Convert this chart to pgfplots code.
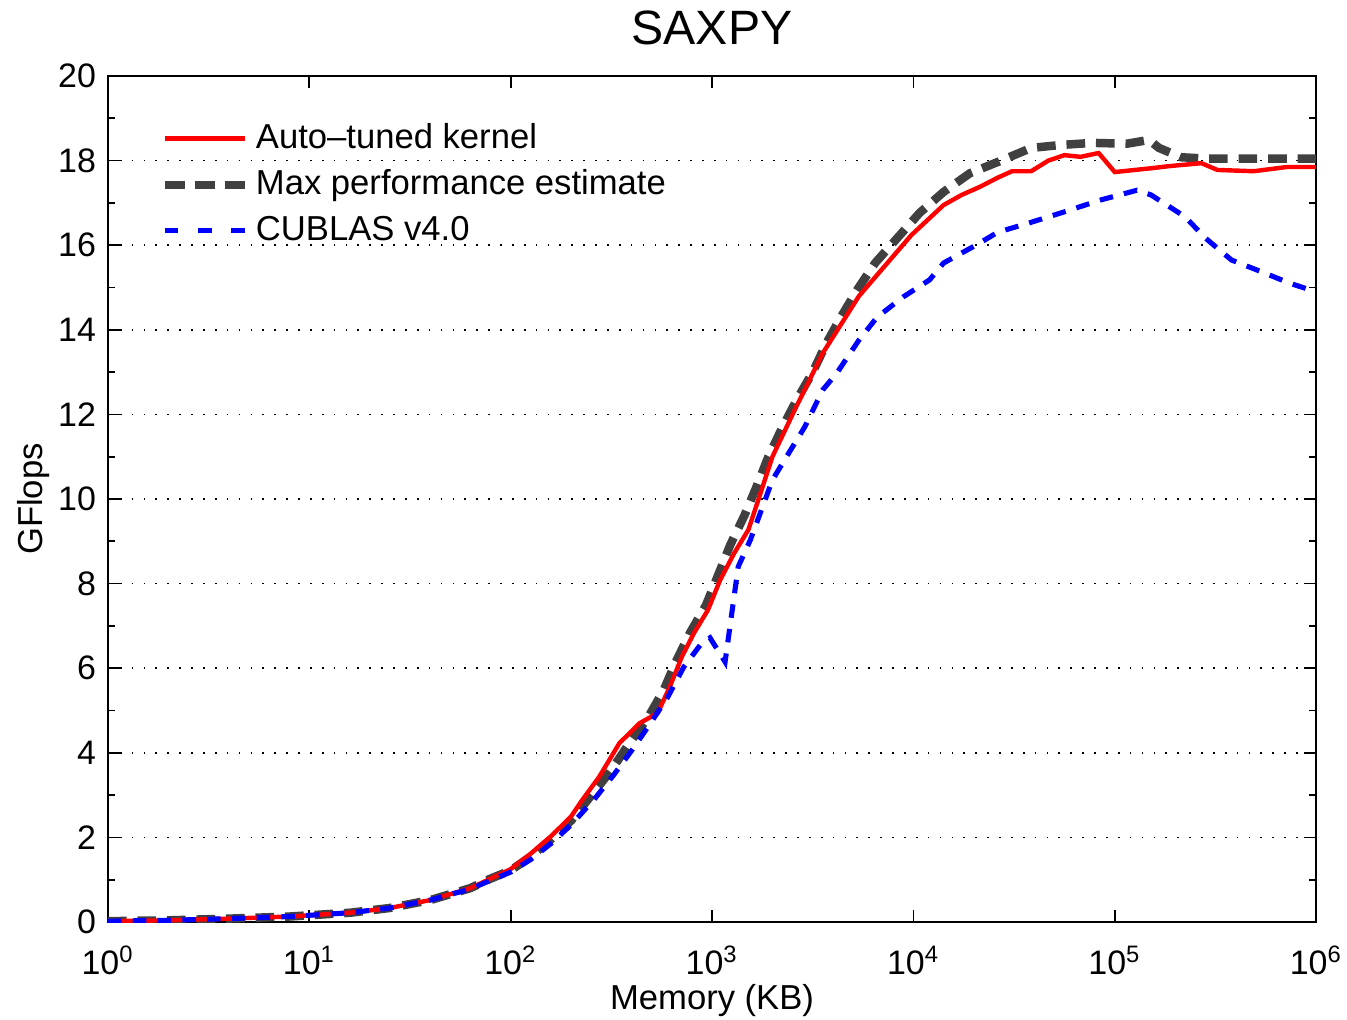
\documentclass[border=0pt]{standalone}
\usepackage{fontspec}
\setmainfont{Liberation Sans}
\usepackage{pgfplots}
\pgfplotsset{compat=1.18}
\definecolor{MaxGray}{HTML}{404040}

% memory in KB, GFlops
\pgfplotstableread{
kb      gf
1       0.02
2       0.04
4       0.08
8       0.13
16      0.22
25      0.33
40      0.52
63      0.80
79      1.02
100     1.25
126     1.62
158     2.02
200     2.50
224     2.85
275     3.43
347     4.23
437     4.70
537     4.94
617     5.56
708     6.27
813     6.83
955     7.38
1096    8.08
1288    8.72
1514    9.27
1698    9.98
1995    11.0
2570    12.1
3548    13.45
5370    14.8
9772    16.24
14125   16.95
17378   17.19
21380   17.38
26303   17.60
30903   17.75
38459   17.75
46774   18.00
56234   18.13
67608   18.09
83176   18.18
100000  17.73
151356  17.82
186209  17.87
269153  17.94
323594  17.78
489779  17.75
716143  17.85
1000000 17.85
}\tuned

\pgfplotstableread{
kb      gf
1       0.02
2       0.04
4       0.08
8       0.13
16      0.22
25      0.33
40      0.52
63      0.80
79      1.02
100     1.22
126     1.55
158     1.95
200     2.40
257     3.05
316     3.59
389     4.23
479     4.82
575     5.48
661     6.15
776     6.83
933     7.49
1072    8.20
1230    8.91
1445    9.60
1660    10.28
1905    11.0
2239    11.7
2630    12.34
3162    13.0
3715    13.7
4365    14.3
5248    14.94
6457    15.58
8318    16.17
10715   16.76
14125   17.26
19055   17.70
26303   17.97
38459   18.30
53703   18.37
77625   18.42
114815  18.40
147911  18.49
165959  18.30
213796  18.08
281838  18.05
500000  18.05
1000000 18.05
}\maxest

\pgfplotstableread{
kb      gf
1       0.02
2       0.04
4       0.08
8       0.13
16      0.22
25      0.33
40      0.52
63      0.78
79      0.98
100     1.18
126     1.48
158     1.85
200     2.30
263     2.93
324     3.47
407     4.11
501     4.74
603     5.32
724     6.03
891     6.60
977     6.72
1161    6.15
1349    8.40
1549    9.03
1778    9.80
1995    10.45
2344    11.0
2884    11.7
3548    12.58
4169    12.98
5370    13.76
6607    14.30
8913    14.78
12023   15.18
14125   15.58
20417   16.00
26303   16.31
37154   16.52
56234   16.79
85114   17.07
128825  17.30
151356  17.19
223872  16.67
281838  16.17
380189  15.65
537032  15.37
741310  15.10
1000000 14.90
}\cublas

\begin{document}
\begin{tikzpicture}
\begin{axis}[
  scale only axis,
  width=355.9pt, height=249.2pt,
  xmode=log, log basis x=10,
  xmin=1, xmax=1000000, ymin=0, ymax=20,
  xtick={1,10,100,1000,10000,100000,1000000},
  xticklabels={10\textsuperscript{0},10\textsuperscript{1},10\textsuperscript{2},10\textsuperscript{3},10\textsuperscript{4},10\textsuperscript{5},10\textsuperscript{6}},
  ytick={0,2,...,20}, minor y tick num=1,
  /pgf/number format/assume math mode=true,
  tick label style={font=\fontsize{10}{12}\selectfont},
  xticklabel style={yshift=-3.5pt},
  tick align=inside, tick pos=both,
  major tick length=3.5pt, minor tick length=2pt,
  every tick/.style={black, line width=0.5pt},
  axis line style={line width=0.6pt},
  ymajorgrids=true,
  grid style={black, line width=0.5pt, dash pattern=on 0.5pt off 3pt},
  title={SAXPY},
  title style={font=\fontsize{14.2}{17}\selectfont, yshift=-0.5pt},
  xlabel={Memory (KB)}, ylabel={GFlops},
  label style={font=\fontsize{10.2}{12}\selectfont},
  xlabel style={yshift=4pt},
  ylabel style={yshift=-4.4pt},
  legend style={draw=none, fill=none, at={(0.043,0.953)}, anchor=north west,
    font=\fontsize{10.2}{12}\selectfont, row sep=0.8pt, inner sep=0pt},
  legend cell align=left,
  legend image code/.code={\draw[#1] (0pt,0pt) -- (23.6pt,0pt);},
]
  \addplot[MaxGray, line width=2.5pt, dash pattern=on 5.5pt off 3.2pt, forget plot] table[x=kb,y=gf] {\maxest};
  \addplot[red, line width=1.3pt, forget plot] table[x=kb,y=gf] {\tuned};
  \addplot[blue, line width=1.5pt, dash pattern=on 4pt off 3.3pt, forget plot] table[x=kb,y=gf] {\cublas};
  \addlegendimage{red, line width=1.3pt}
  \addlegendentry{Auto\textendash tuned kernel}
  \addlegendimage{MaxGray, line width=2.5pt, dash pattern=on 5.9pt off 2.9pt}
  \addlegendentry{Max performance estimate}
  \addlegendimage{blue, line width=1.5pt, dash pattern=on 4pt off 5.8pt}
  \addlegendentry{CUBLAS v4.0}
\end{axis}
\pgfresetboundingbox
\path ([xshift=-31.8pt,yshift=-28.6pt]current axis.south west) rectangle ([xshift=9.1pt,yshift=22.4pt]current axis.north east);
\end{tikzpicture}
\end{document}
